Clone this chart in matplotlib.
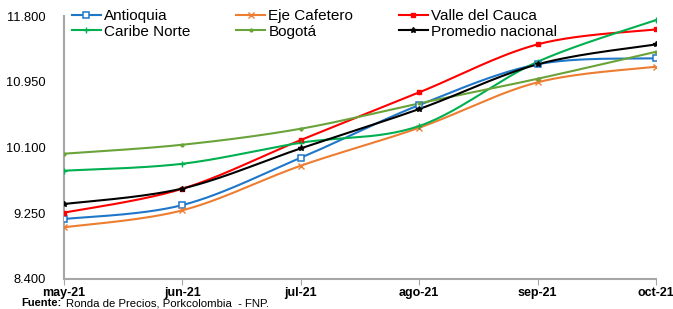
import numpy as np
import matplotlib
matplotlib.use('Agg')
import matplotlib.pyplot as plt
from matplotlib.ticker import FuncFormatter

plt.rcParams['font.family'] = ['Liberation Sans', 'DejaVu Sans']

months = ['may-21', 'jun-21', 'jul-21', 'ago-21', 'sep-21', 'oct-21']

antioquia = [9175, 9356, 9968, 10649, 11176, 11253]
eje_cafetero = [9068, 9288, 9865, 10356, 10943, 11145]
valle = [9257, 9567, 10197, 10813, 11434, 11628]
caribe = [9800, 9890, 10162, 10378, 11209, 11748]
bogota = [10020, 10136, 10343, 10671, 10989, 11338]
promedio = [9369, 9570, 10089, 10598, 11176, 11434]


def smooth(x, y, n=30):
    # bezier curve through the points, similar to excel smoothed lines
    x = np.asarray(x, float)
    y = np.asarray(y, float)
    px = np.concatenate([[x[0]], x, [x[-1]]])
    py = np.concatenate([[y[0]], y, [y[-1]]])
    xs, ys = [], []
    t = np.linspace(0, 1, n)
    for i in range(1, len(px) - 2):
        p0 = np.array([px[i], py[i]])
        p3 = np.array([px[i + 1], py[i + 1]])
        c1 = p0 + (np.array([px[i + 1], py[i + 1]]) - np.array([px[i - 1], py[i - 1]])) / 6
        c2 = p3 - (np.array([px[i + 2], py[i + 2]]) - np.array([px[i], py[i]])) / 6
        b = ((1 - t) ** 3)[:, None] * p0 + (3 * (1 - t) ** 2 * t)[:, None] * c1 \
            + (3 * (1 - t) * t ** 2)[:, None] * c2 + (t ** 3)[:, None] * p3
        xs.extend(b[:, 0])
        ys.extend(b[:, 1])
    return xs, ys


fig = plt.figure(figsize=(6.73, 3.09), dpi=100)
ax = fig.add_axes([0.0951, 0.0971, 0.8797, 0.851])

series = [
    ('Antioquia', antioquia, '#1F77C9', dict(marker='s', ms=5, mfc='white', mew=1.1)),
    ('Eje Cafetero', eje_cafetero, '#ED7D31', dict(marker='x', ms=4.5, mew=1)),
    ('Valle del Cauca', valle, '#FF0000', dict(marker='s', ms=3.5)),
    ('Caribe Norte', caribe, '#00B050', dict(marker='+', ms=4, mew=1)),
    ('Bogotá', bogota, '#6AA339', dict(marker='.', ms=4)),
    ('Promedio nacional', promedio, '#000000', dict(marker='*', ms=4)),
]

xi = np.arange(len(months))
handles = {}
for name, vals, col, mk in series:
    sx, sy = smooth(xi, vals)
    ax.plot(sx, sy, color=col, lw=1.5, zorder=2)
    ax.plot(xi, vals, color=col, lw=1.5, ls='none', zorder=3, **mk)
    h, = ax.plot([], [], color=col, lw=1.5, label=name, **mk)
    handles[name] = h

ax.set_xlim(0, len(months) - 1)
ax.set_ylim(8400, 11800)
ax.set_yticks([8400, 9250, 10100, 10950, 11800])
ax.yaxis.set_major_formatter(FuncFormatter(lambda v, p: f'{int(v):,}'.replace(',', '.')))
ax.set_xticks(xi)
ax.set_xticklabels(months, fontweight='bold', fontsize=9)
ax.tick_params(axis='y', length=0, labelsize=9.3, pad=13)
ax.tick_params(axis='x', length=4, color='#A6A6A6', direction='out', pad=2)

for s in ['top', 'right']:
    ax.spines[s].set_visible(False)
ax.spines['left'].set_color('#A6A6A6')
ax.spines['bottom'].set_color('#A6A6A6')
ax.spines['left'].set_linewidth(1.5)
ax.spines['bottom'].set_linewidth(1.5)

# row-major order like the original legend
order = ['Antioquia', 'Caribe Norte', 'Eje Cafetero', 'Bogotá',
         'Valle del Cauca', 'Promedio nacional']
ax.legend([handles[k] for k in order], order, ncol=3, loc='upper left',
          bbox_to_anchor=(0.003, 1.05), frameon=False,
          fontsize=11, handlelength=1.9, handletextpad=0.2, columnspacing=3.0,
          labelspacing=0.1, borderaxespad=0)

fig.text(0.032, 0.003, 'Fuente:', fontsize=8, fontweight='bold', va='bottom')
fig.text(0.098, 0.003, 'Ronda de Precios, Porkcolombia  - FNP.', fontsize=8.2, va='bottom')

fig.savefig('out.png', dpi=100)
